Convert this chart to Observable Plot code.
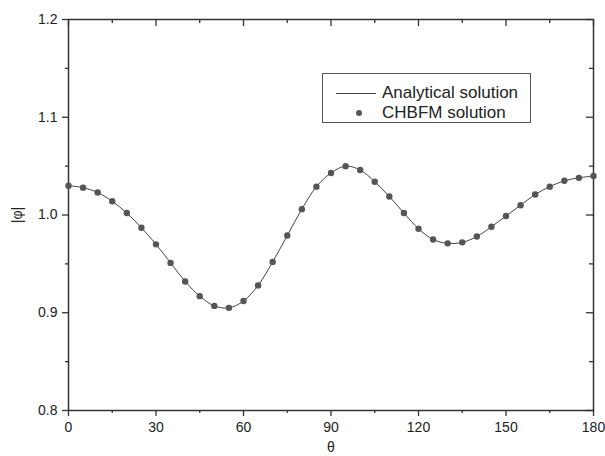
<!DOCTYPE html>
<html><head><meta charset="utf-8">
<script src="https://cdn.jsdelivr.net/npm/d3@7"></script>
<script src="https://cdn.jsdelivr.net/npm/@observablehq/plot@0.6"></script>
<style>
body{margin:0;background:#fff;}
#wrap{position:relative;width:605px;height:456px;font-family:"Liberation Sans",Arial,sans-serif;color:#222;}
#legend{position:absolute;left:322px;top:73px;width:209px;height:50px;border:1px solid #555;box-sizing:border-box;background:#fff;}
#legend .row{position:absolute;left:0;height:20px;width:100%;}
#legend .txt{position:absolute;left:59px;top:0;font-size:17px;line-height:20px;white-space:nowrap;color:#222;}
#legend .ln{position:absolute;left:13px;top:10px;width:40px;height:0;border-top:1px solid #444;}
#legend .dt{position:absolute;left:33px;top:7px;width:6px;height:6px;border-radius:50%;background:#555;}
</style></head>
<body><div id="wrap"></div>
<script>
const theta = [0,5,10,15,20,25,30,35,40,45,50,55,60,65,70,75,80,85,90,95,100,105,110,115,120,125,130,135,140,145,150,155,160,165,170,175,180];
const chbfm = [1.030,1.028,1.023,1.014,1.002,0.987,0.970,0.951,0.932,0.917,0.907,0.905,0.912,0.928,0.952,0.979,1.006,1.029,1.043,1.050,1.046,1.034,1.019,1.002,0.986,0.975,0.971,0.972,0.978,0.988,0.999,1.010,1.021,1.029,1.035,1.038,1.040];
const analytical = [1.030,1.028,1.023,1.014,1.002,0.987,0.970,0.951,0.932,0.917,0.907,0.905,0.912,0.928,0.952,0.979,1.006,1.029,1.043,1.050,1.046,1.034,1.019,1.002,0.986,0.975,0.971,0.972,0.978,0.988,0.999,1.010,1.021,1.029,1.035,1.038,1.040];
const xMajor = [0,30,60,90,120,150,180];
const xMinor = [15,45,75,105,135,165];
const yMajor = [0.8,0.9,1.0,1.1,1.2];
const yMinor = [0.85,0.95,1.05,1.15];
const seriesNames = ["Analytical solution","CHBFM solution"];

const data = theta.map((t,i)=>({theta:t, analytical:analytical[i], chbfm:chbfm[i]}));
const W=605,H=456,mL=68,mR=12,mT=19,mB=46;
const pw=W-mL-mR, ph=H-mT-mB;
const axisColor="#333";
const chart = Plot.plot({
  width:W, height:H, marginLeft:mL, marginRight:mR, marginTop:mT, marginBottom:mB,
  style:{fontFamily:'"Liberation Sans", Arial, sans-serif', fontSize:"14px", color:"#222", background:"#fff"},
  x:{domain:[0,180]},
  y:{domain:[0.8,1.2]},
  marks:[
    Plot.axisX(xMajor,{tickSize:6, tickPadding:6, fontSize:14, stroke:axisColor, strokeWidth:1.3, label:"θ", labelAnchor:"center", labelOffset:41, labelArrow:"none"}),
    Plot.axisX(xMinor,{tickSize:3, tickFormat:()=>"", stroke:axisColor, strokeWidth:1.3, label:null}),
    Plot.axisY(yMajor,{tickSize:6, tickPadding:5, fontSize:14, stroke:axisColor, strokeWidth:1.3, tickFormat:d3.format(".1f"), label:"|φ|", labelAnchor:"center", labelOffset:56, labelArrow:"none"}),
    Plot.axisY(yMinor,{tickSize:3, tickFormat:()=>"", stroke:axisColor, strokeWidth:1.3, label:null}),
    Plot.tickX(xMajor,{x:d=>d, insetBottom:ph-7, stroke:axisColor, strokeWidth:1.3}),
    Plot.tickX(xMinor,{x:d=>d, insetBottom:ph-4, stroke:axisColor, strokeWidth:1.3}),
    Plot.tickY(yMajor,{y:d=>d, insetLeft:pw-7, stroke:axisColor, strokeWidth:1.3}),
    Plot.tickY(yMinor,{y:d=>d, insetLeft:pw-4, stroke:axisColor, strokeWidth:1.3}),
    Plot.frame({stroke:axisColor, strokeWidth:1.5}),
    Plot.line(data,{x:"theta", y:"analytical", curve:"catmull-rom", stroke:"#444", strokeWidth:1}),
    Plot.dot(data,{x:"theta", y:"chbfm", r:3.2, fill:"#555", stroke:"none"})
  ]
});
const wrap=document.getElementById("wrap");
wrap.appendChild(chart);
const lg=document.createElement("div");
lg.id="legend";
lg.innerHTML=`<div class="row" style="top:9px"><div class="ln"></div><div class="txt">${seriesNames[0]}</div></div>
<div class="row" style="top:29px"><div class="dt"></div><div class="txt">${seriesNames[1]}</div></div>`;
wrap.appendChild(lg);
</script></body></html>
